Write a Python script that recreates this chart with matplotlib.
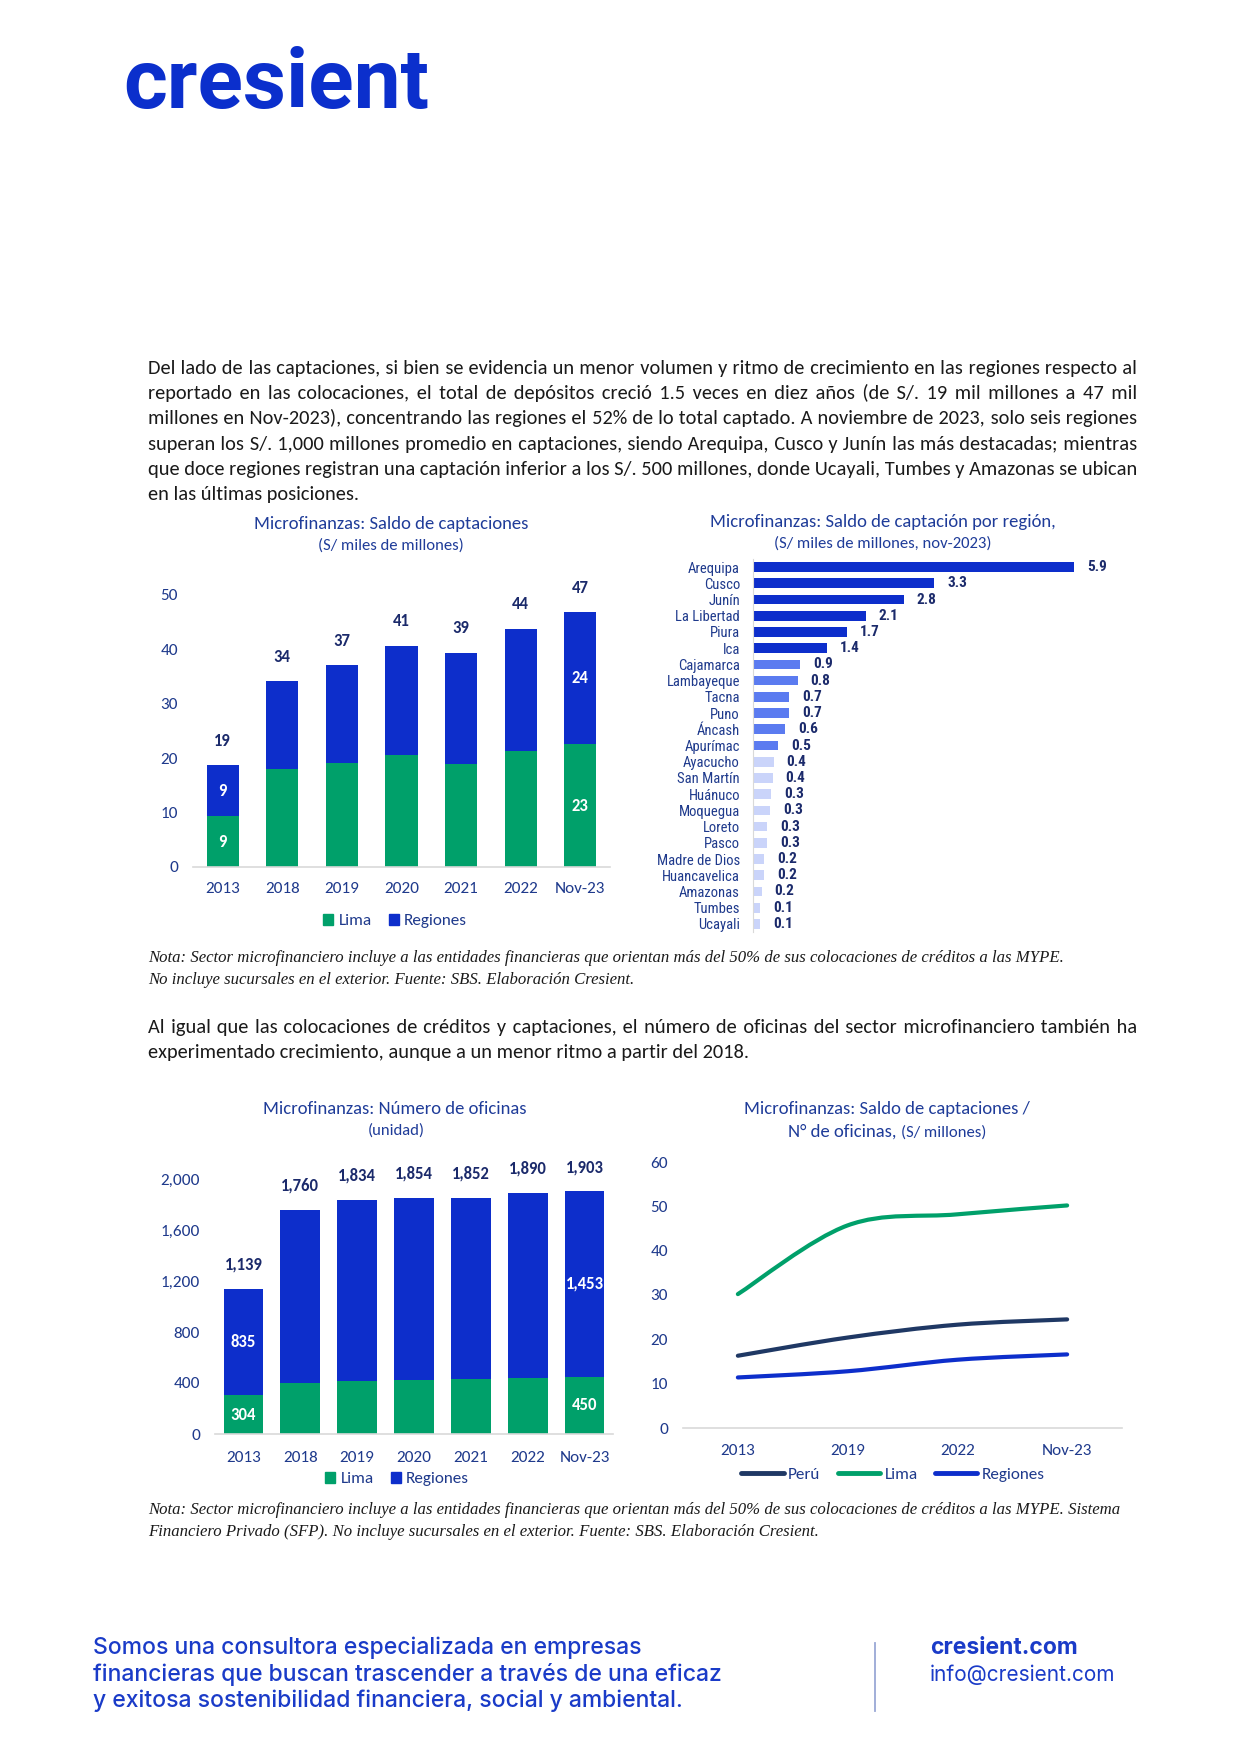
import itertools
import numpy as np
import matplotlib
matplotlib.use('Agg')
import matplotlib.pyplot as plt
from matplotlib.patches import Patch, PathPatch
from matplotlib.lines import Line2D
from matplotlib.path import Path
from matplotlib.ticker import FuncFormatter
from matplotlib import font_manager

# ---------------- data ----------------
capt_years = ['2013', '2018', '2019', '2020', '2021', '2022', 'Nov-23']
capt_lima = [9.3, 18.1, 19.2, 20.5, 19.0, 21.4, 22.6]
capt_regiones = [9.4, 16.1, 17.9, 20.2, 20.4, 22.4, 24.2]
capt_inner_idx = [0, 6]

regions = ['Arequipa', 'Cusco', 'Junín', 'La Libertad', 'Piura', 'Ica', 'Cajamarca',
           'Lambayeque', 'Tacna', 'Puno', 'Áncash', 'Apurímac', 'Ayacucho', 'San Martín',
           'Huánuco', 'Moquegua', 'Loreto', 'Pasco', 'Madre de Dios', 'Huancavelica',
           'Amazonas', 'Tumbes', 'Ucayali']
region_vals = [5.90, 3.33, 2.77, 2.07, 1.72, 1.36, 0.86, 0.82, 0.67, 0.66, 0.59, 0.46,
               0.38, 0.36, 0.33, 0.31, 0.26, 0.26, 0.20, 0.20, 0.16, 0.13, 0.13]

ofi_years = ['2013', '2018', '2019', '2020', '2021', '2022', 'Nov-23']
ofi_lima = [304, 397, 418, 424, 431, 442, 450]
ofi_regiones = [835, 1363, 1416, 1430, 1421, 1448, 1453]
ofi_inner_idx = [0, 6]

ratio_x = ['2013', '2019', '2022', 'Nov-23']
ratio_peru = [16.3, 20.4, 23.3, 24.5]
ratio_lima = [30.2, 45.7, 48.2, 50.2]
ratio_regiones = [11.4, 12.8, 15.4, 16.6]

para1 = [
    "Del lado de las captaciones, si bien se evidencia un menor volumen y ritmo de crecimiento en las regiones respecto al",
    "reportado en las colocaciones, el total de depósitos creció 1.5 veces en diez años (de S/. 19 mil millones a 47 mil",
    "millones en Nov-2023), concentrando las regiones el 52% de lo total captado. A noviembre de 2023, solo seis regiones",
    "superan los S/. 1,000 millones promedio en captaciones, siendo Arequipa, Cusco y Junín las más destacadas; mientras",
    "que doce regiones registran una captación inferior a los S/. 500 millones, donde Ucayali, Tumbes y Amazonas se ubican",
    "en las últimas posiciones.",
]
para2 = [
    "Al igual que las colocaciones de créditos y captaciones, el número de oficinas del sector microfinanciero también ha",
    "experimentado crecimiento, aunque a un menor ritmo a partir del 2018.",
]
note1 = [
    "Nota: Sector microfinanciero incluye a las entidades financieras que orientan más del 50% de sus colocaciones de créditos a las MYPE.",
    "No incluye sucursales en el exterior. Fuente: SBS. Elaboración Cresient.",
]
note2 = [
    "Nota: Sector microfinanciero incluye a las entidades financieras que orientan más del 50% de sus colocaciones de créditos a las MYPE. Sistema",
    "Financiero Privado (SFP). No incluye sucursales en el exterior. Fuente: SBS. Elaboración Cresient.",
]
footer_lines = [
    "Somos una consultora especializada en empresas",
    "financieras que buscan trascender a través de una eficaz",
    "y exitosa sostenibilidad financiera, social y ambiental.",
]

# ---------------- style ----------------
GREEN = '#00A06A'
BLUE = '#0D2ECB'
MIDBLUE = '#5B7BF0'
LIGHTBLUE = '#CAD4FA'
NAVY = '#1F3864'
TITLE = '#1F3C99'
TICK = '#1F3A8C'
LABEL = '#1B2A6B'
LOGO = '#0B2FCC'
GRID = '#D9D9D9'

names = {f.name for f in font_manager.fontManager.ttflist}
def pick(*cands):
    for c in cands:
        if c in names:
            return c
    return 'DejaVu Sans'
SANS = pick('Carlito', 'Lato', 'Open Sans')
NARROW = pick('Liberation Sans Narrow', 'Roboto Condensed', 'Liberation Sans')
SERIF = pick('Liberation Serif', 'DejaVu Serif')
FOOT = pick('Inter', 'Roboto')
LOGOF = pick('Roboto', 'Inter')

plt.rcParams['font.family'] = [SANS, 'DejaVu Sans']

W, H = 1241, 1754
fig = plt.figure(figsize=(W / 100, H / 100), dpi=100)
R = fig.canvas.get_renderer()

def fx(x):
    return x / W

def fy(y):
    return 1 - y / H

def axrect(x0, y0, x1, y1):
    return [x0 / W, 1 - y1 / H, (x1 - x0) / W, (y1 - y0) / H]

def measure(s, size, **kw):
    t = fig.text(0, 0, s, fontsize=size, **kw)
    w = t.get_window_extent(R).width
    t.remove()
    return w

def fit_size(s, width, **kw):
    return 12 * width / measure(s, 12, **kw)

def fit_text(x, y, s, width, ha='left', va='baseline', **kw):
    size = fit_size(s, width, **kw)
    return fig.text(fx(x), fy(y), s, fontsize=size, ha=ha, va=va, **kw), size

SPACE_CHARS = [' ', '\u00a0', '\u2002', '\u2004', '\u2005', '\u2006', '\u2008',
               '\u2009', '\u200a', '\u202f']

def space_combos(size, **kw):
    base = measure('xx', size, **kw)
    widths = {}
    for c in SPACE_CHARS:
        w = measure('x' + c + 'x', size, **kw) - base
        if w > 0.3:
            widths[c] = w
    combos = []
    chars = list(widths)
    for r in (1, 2, 3):
        for comb in itertools.combinations_with_replacement(chars, r):
            combos.append((sum(widths[c] for c in comb), ''.join(comb)))
    return widths.get(' ', base * 0.1), combos

def justify(line, x0, x1, ybase, size, combos, sp, last=False, **kw):
    """One text per line; each word gap is a combination of space characters
    chosen so that the line fills x0..x1."""
    if last:
        fig.text(fx(x0), fy(ybase), line, fontsize=size, va='baseline', ha='left', **kw)
        return
    words = line.split(' ')
    natural = measure(line, size, **kw)
    ngaps = max(len(words) - 1, 1)
    g = sp + max((x1 - x0) - natural, 0) / ngaps
    s = words[0]
    err = 0.0
    for w in words[1:]:
        want = g + err
        cw, cs = min(combos, key=lambda c: abs(c[0] - want))
        err = want - cw
        s += cs + w
    fig.text(fx(x0), fy(ybase), s, fontsize=size, va='baseline', ha='left', **kw)

# ---------------- logo ----------------
fit_text(123, 108, 'cresient', 307, color=LOGO, fontweight='bold', family=[LOGOF, 'DejaVu Sans'])

# ---------------- paragraphs ----------------
PX0, PX1 = 148, 1137
pkw = dict(color='#1A1A1A')
nat = [measure(l, 12, **pkw) for l in para1[:-1] + para2[:-1]]
psize = 12 * (PX1 - PX0) * 0.995 / max(nat)
sp, combos = space_combos(psize, **pkw)
for i, line in enumerate(para1):
    justify(line, PX0, PX1, 374 + 25.2 * i, psize, combos, sp, last=(i == len(para1) - 1), **pkw)
for i, line in enumerate(para2):
    justify(line, PX0, PX1, 1033 + 25.2 * i, psize, combos, sp, last=(i == len(para2) - 1), **pkw)

# ---------------- notes ----------------
nkw = dict(color='#1A1A1A', style='italic', family=[SERIF, 'DejaVu Serif'])
nsize = (fit_size(note1[0], 911, **nkw) + fit_size(note2[0], 974, **nkw)) / 2
for i, l in enumerate(note1):
    fig.text(fx(148), fy(962 + 22.5 * i), l, fontsize=nsize, va='baseline', **nkw)
for i, l in enumerate(note2):
    fig.text(fx(148), fy(1514 + 22.5 * i), l, fontsize=nsize, va='baseline', **nkw)

# ---------------- titles ----------------
_, tsize = fit_text(391, 524, 'Microfinanzas: Saldo de captaciones', 275, ha='center', va='center', color=TITLE)
_, ssize = fit_text(391, 546, '(S/ miles de millones)', 145, ha='center', va='center', color=TITLE)
fig.text(fx(883), fy(522), 'Microfinanzas: Saldo de captación por región,', fontsize=tsize, ha='center', va='center', color=TITLE)
fig.text(fx(883), fy(544), '(S/ miles de millones, nov-2023)', fontsize=ssize, ha='center', va='center', color=TITLE)
fig.text(fx(395), fy(1109), 'Microfinanzas: Número de oficinas', fontsize=tsize, ha='center', va='center', color=TITLE)
fig.text(fx(396), fy(1131), '(unidad)', fontsize=ssize, ha='center', va='center', color=TITLE)
fig.text(fx(887), fy(1109), 'Microfinanzas: Saldo de captaciones /', fontsize=tsize, ha='center', va='center', color=TITLE)
pa, pb = 'N° de oficinas, ', '(S/ millones)'
wa = measure(pa, tsize)
wb = measure(pb, ssize)
xs = 887 - (wa + wb) / 2
fig.text(fx(xs), fy(1137), pa, fontsize=tsize, ha='left', va='baseline', color=TITLE)
fig.text(fx(xs + wa), fy(1137), pb, fontsize=ssize, ha='left', va='baseline', color=TITLE)

TS = 12.3
BS = 12.0

def style_axes(ax, xpad=10.5):
    for s in ['top', 'right', 'left']:
        ax.spines[s].set_visible(False)
    ax.spines['bottom'].set_color(GRID)
    ax.spines['bottom'].set_linewidth(1.2)
    ax.tick_params(length=0, labelsize=TS, labelcolor=TICK)
    ax.tick_params(axis='y', pad=10.8)
    ax.tick_params(axis='x', pad=xpad)

# ---------------- chart 1: captaciones ----------------
ax1 = fig.add_axes(axrect(193, 595, 610, 867))
x1 = np.arange(len(capt_years))
ax1.bar(x1, capt_lima, width=0.54, color=GREEN)
ax1.bar(x1, capt_regiones, bottom=capt_lima, width=0.54, color=BLUE)
ax1.set_xlim(-0.5, len(capt_years) - 0.5)
ax1.set_ylim(0, 50)
ax1.set_yticks(np.arange(0, 51, 10))
ax1.set_xticks(x1, capt_years)
style_axes(ax1, xpad=10.8)
for i in range(len(capt_years)):
    tot = capt_lima[i] + capt_regiones[i]
    ax1.annotate(f'{tot:.0f}', (x1[i], tot), xytext=(0, 17.5), textcoords='offset points',
                 ha='center', va='center', fontsize=BS, fontweight='bold', color=LABEL,
                 annotation_clip=False)
for i in capt_inner_idx:
    ax1.text(x1[i], capt_lima[i] / 2, f'{capt_lima[i]:.0f}', ha='center', va='center',
             fontsize=BS, fontweight='bold', color='white')
    ax1.text(x1[i], capt_lima[i] + capt_regiones[i] / 2, f'{capt_regiones[i]:.0f}',
             ha='center', va='center', fontsize=BS, fontweight='bold', color='white')
leg_handles = [Patch(color=GREEN, label='Lima'), Patch(color=BLUE, label='Regiones')]
ax1.legend(handles=leg_handles, loc='center', bbox_to_anchor=(fx(395), fy(921)),
           bbox_transform=fig.transFigure, ncol=2, frameon=False, fontsize=TS,
           labelcolor=TICK, handlelength=0.6, handleheight=0.6, handletextpad=0.3,
           columnspacing=1.0)

# ---------------- chart 2: regiones ----------------
ax2 = fig.add_axes(axrect(753, 559, 1107, 932))
y2 = np.arange(len(regions))
cols = [BLUE if round(v, 1) >= 1 else (MIDBLUE if round(v, 1) >= 0.5 else LIGHTBLUE) for v in region_vals]
ax2.barh(y2, region_vals, height=0.6, color=cols)
ax2.set_ylim(len(regions) - 0.5, -0.5)
ax2.set_xlim(0, 6.5)
ax2.set_yticks(y2, regions)
ax2.set_xticks([])
for s in ['top', 'right', 'bottom']:
    ax2.spines[s].set_visible(False)
ax2.spines['left'].set_color(GRID)
ax2.tick_params(length=0, pad=9.4, labelsize=10.5, labelcolor=TICK)
for lab in ax2.get_yticklabels():
    lab.set_fontfamily([NARROW, 'DejaVu Sans'])
for i, v in enumerate(region_vals):
    ax2.annotate(f'{v:.1f}', (v, y2[i]), xytext=(9.3, 0), textcoords='offset points',
                 ha='left', va='center', fontsize=11, fontweight='bold', color=LABEL,
                 family=[NARROW, 'DejaVu Sans'], annotation_clip=False)

# ---------------- chart 3: oficinas ----------------
ax3 = fig.add_axes(axrect(215, 1179, 613, 1434))
x3 = np.arange(len(ofi_years))
ax3.bar(x3, ofi_lima, width=0.70, color=GREEN)
ax3.bar(x3, ofi_regiones, bottom=ofi_lima, width=0.70, color=BLUE)
ax3.set_xlim(-0.5, len(ofi_years) - 0.5)
ax3.set_ylim(0, 2000)
ax3.set_yticks(np.arange(0, 2001, 400))
ax3.yaxis.set_major_formatter(FuncFormatter(lambda v, p: f'{v:,.0f}'))
ax3.set_xticks(x3, ofi_years)
style_axes(ax3, xpad=12)
for i in range(len(ofi_years)):
    tot = ofi_lima[i] + ofi_regiones[i]
    ax3.annotate(f'{tot:,.0f}', (x3[i], tot), xytext=(0, 17.5), textcoords='offset points',
                 ha='center', va='center', fontsize=BS, fontweight='bold', color=LABEL,
                 annotation_clip=False)
for i in ofi_inner_idx:
    ax3.text(x3[i], ofi_lima[i] / 2, f'{ofi_lima[i]:,.0f}', ha='center', va='center',
             fontsize=BS, fontweight='bold', color='white')
    ax3.text(x3[i], ofi_lima[i] + ofi_regiones[i] / 2, f'{ofi_regiones[i]:,.0f}',
             ha='center', va='center', fontsize=BS, fontweight='bold', color='white')
ax3.legend(handles=[Patch(color=GREEN, label='Lima'), Patch(color=BLUE, label='Regiones')],
           loc='center', bbox_to_anchor=(fx(397), fy(1479)), bbox_transform=fig.transFigure,
           ncol=2, frameon=False, fontsize=TS, labelcolor=TICK, handlelength=0.6,
           handleheight=0.6, handletextpad=0.3, columnspacing=1.0)

# ---------------- chart 4: ratio ----------------
ax4 = fig.add_axes(axrect(683, 1162, 1122, 1428))
x4 = np.arange(len(ratio_x))
ax4.set_xlim(-0.5, len(ratio_x) - 0.5)
ax4.set_ylim(0, 60)
ax4.set_yticks(np.arange(0, 61, 10))
ax4.set_xticks(x4, ratio_x)
style_axes(ax4, xpad=11.5)

def smooth_path(xs, ys):
    P = np.column_stack([xs, ys]).astype(float)
    n = len(P)
    verts = [P[0]]
    codes = [Path.MOVETO]
    for i in range(n - 1):
        p0 = P[i - 1] if i > 0 else P[i]
        p1, p2 = P[i], P[i + 1]
        p3 = P[i + 2] if i + 2 < n else P[i + 1]
        c1 = p1 + (p2 - p0) / 6
        c2 = p2 - (p3 - p1) / 6
        verts += [c1, c2, p2]
        codes += [Path.CURVE4] * 3
    return Path(verts, codes)

for ys, c in [(ratio_peru, NAVY), (ratio_lima, GREEN), (ratio_regiones, BLUE)]:
    ax4.add_patch(PathPatch(smooth_path(x4, ys), facecolor='none', edgecolor=c, lw=3,
                            capstyle='round', joinstyle='round'))
lh = [Line2D([], [], color=NAVY, lw=3.5, solid_capstyle='round', label='Perú'),
      Line2D([], [], color=GREEN, lw=3.5, solid_capstyle='round', label='Lima'),
      Line2D([], [], color=BLUE, lw=3.5, solid_capstyle='round', label='Regiones')]
ax4.legend(handles=lh, loc='center', bbox_to_anchor=(fx(893), fy(1475)),
           bbox_transform=fig.transFigure, ncol=3, frameon=False, fontsize=TS,
           labelcolor=TICK, handlelength=2.5, handletextpad=0.25, columnspacing=1.0)

# ---------------- footer ----------------
FC = '#1A3BC8'
fkw = dict(color=FC, family=[FOOT, 'DejaVu Sans'], fontweight='medium')
fsize = fit_size(footer_lines[1], 630, **fkw)
for i, l in enumerate(footer_lines):
    fig.text(fx(93), fy(1654 + 26.5 * i), l, fontsize=fsize, va='baseline', **fkw)
fig.add_artist(Line2D([fx(875), fx(875)], [fy(1643), fy(1711)], color='#9AA8D6', lw=1.3))
fig.text(fx(930), fy(1654), 'cresient.com', fontsize=fsize, va='baseline', color=FC,
         family=[FOOT, 'DejaVu Sans'], fontweight='bold')
fit_text(930, 1681, 'info@cresient.com', 185, color=FC, family=[FOOT, 'DejaVu Sans'])

fig.savefig('out.png', dpi=100, facecolor='white')
